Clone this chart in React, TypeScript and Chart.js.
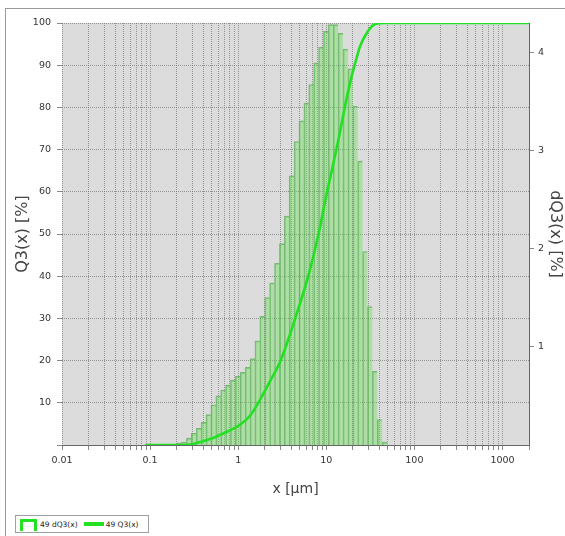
import React, { useEffect, useRef } from 'react';
import { Chart, registerables } from 'chart.js';

Chart.register(...registerables);

// ---- data ----
// histogram bins (class centres, µm) and dQ3 values (% , right axis)
const binCentersUm = [
  0.2132, 0.2423, 0.2754, 0.3129, 0.3557, 0.4042, 0.4593, 0.522, 0.5933,
  0.6742, 0.7662, 0.8708, 0.9896, 1.1247, 1.2782, 1.4526, 1.6508, 1.8761,
  2.1321, 2.4231, 2.7537, 3.1295, 3.5566, 4.0419, 4.5935, 5.2203, 5.9327,
  6.7423, 7.6624, 8.708, 9.8963, 11.247, 12.782, 14.526, 16.508, 18.761,
  21.321, 24.231, 27.537, 31.295, 35.566, 40.419, 45.935,
];
const dQ3Values = [
  0.02, 0.03, 0.07, 0.12, 0.17, 0.23, 0.31, 0.41, 0.5,
  0.56, 0.61, 0.66, 0.7, 0.74, 0.79, 0.88, 1.06, 1.31,
  1.5, 1.65, 1.85, 2.05, 2.33, 2.74, 3.09, 3.3, 3.48,
  3.67, 3.89, 4.05, 4.21, 4.28, 4.28, 4.19, 4.03, 3.83,
  3.45, 2.89, 1.97, 1.41, 0.75, 0.26, 0.03,
];
// cumulative curve Q3 (% , left axis)
const q3SizesUm = [
  0.088, 0.2, 0.285, 0.37, 0.48, 0.58, 0.81, 1.05, 1.37, 1.78, 2.31, 3.0,
  4.45, 6.24, 8.11, 9.75, 13.7, 16.4, 18.7, 22.5, 24.3, 29.2, 34.2, 44.4, 2000,
];
const q3Values = [
  0, 0, 0.12, 0.7, 1.4, 2.1, 3.5, 4.8, 7.0, 10.8, 15.2, 19.8,
  30.1, 40.0, 49.7, 58.0, 72.2, 80.5, 86.0, 92.3, 94.6, 97.8, 99.5, 100, 100,
];

// ---- axes ----
const xMin = 0.01;
const xMax = 2000;
const xDecades = [0.01, 0.1, 1, 10, 100, 1000];
const xTickLabels = ['0.01', '0.1', '1', '10', '100', '1000'];
const xMinorFactors = [1, 2, 3, 4, 5, 6, 7, 8, 9];
const leftTicks = [0, 10, 20, 30, 40, 50, 60, 70, 80, 90, 100];
const leftMax = 100;
const rightTicks = [1, 2, 3, 4];
const rightMax = 4.296;

const seriesNames = ['49 dQ3(x)', '49 Q3(x)'];

const TICK_FONT = { family: 'DejaVu Sans', size: 9.5 };
const TITLE_FONT = { family: 'DejaVu Sans', size: 14 };
const AXIS_TITLE_FONT = { family: 'DejaVu Sans', size: 16 };
const GRID_COLOR = 'rgba(115,115,115,0.7)';
const LINE_GREEN = '#22e122';

const xTickValues: number[] = [];
xDecades.forEach((d) => {
  xMinorFactors.forEach((f) => {
    const v = +(d * f).toPrecision(6);
    if (v <= xMax) xTickValues.push(v);
  });
});

const bgPlugin = {
  id: 'plotBg',
  beforeDraw(chart: any) {
    const { ctx, chartArea } = chart;
    ctx.save();
    ctx.fillStyle = '#dcdcdc';
    ctx.fillRect(chartArea.left, chartArea.top, chartArea.right - chartArea.left, chartArea.bottom - chartArea.top);
    ctx.restore();
  },
};

export default function App() {
  const canvasRef = useRef<HTMLCanvasElement | null>(null);

  useEffect(() => {
    document.body.style.margin = '0';
    const canvas = canvasRef.current;
    if (!canvas) return;
    const chart = new Chart(canvas, {
      type: 'bar',
      data: {
        datasets: [
          {
            type: 'line',
            label: seriesNames[1],
            data: q3SizesUm.map((x, i) => ({ x, y: q3Values[i] })),
            xAxisID: 'x',
            yAxisID: 'yL',
            borderColor: LINE_GREEN,
            borderWidth: 2.6,
            pointRadius: 0,
            cubicInterpolationMode: 'monotone',
            fill: false,
            order: 0,
          } as any,
          {
            type: 'bar',
            label: seriesNames[0],
            data: binCentersUm.map((x, i) => ({ x, y: dQ3Values[i] })),
            xAxisID: 'xb',
            yAxisID: 'yR',
            backgroundColor: 'rgba(110,222,90,0.42)',
            borderColor: 'rgba(60,160,60,0.6)',
            borderWidth: { left: 1, right: 0, top: 1, bottom: 0 },
            borderSkipped: false,
            grouped: false,
            categoryPercentage: 1,
            barPercentage: 1,
            order: 1,
          } as any,
        ],
      },
      options: {
        animation: false,
        responsive: false,
        maintainAspectRatio: false,
        devicePixelRatio: 1,
        layout: { padding: { top: 23, left: 0, right: 0, bottom: 0 } },
        plugins: {
          legend: { display: false },
          tooltip: { enabled: false },
        },
        scales: {
          x: {
            type: 'logarithmic',
            position: 'bottom',
            min: xMin,
            max: xMax,
            offset: false,
            afterFit: (s: any) => { s.height = 91; },
            afterBuildTicks: (s: any) => { s.ticks = xTickValues.map((v) => ({ value: v })); },
            ticks: {
              autoSkip: false,
              maxRotation: 0,
              minRotation: 0,
              padding: 5,
              font: TICK_FONT,
              color: '#333',
              callback: (value: any) => {
                const i = xDecades.findIndex((d) => Math.abs(d - value) / d < 1e-6);
                return i >= 0 ? xTickLabels[i] : '';
              },
            },
            grid: {
              offset: false,
              color: GRID_COLOR,
              lineWidth: 1,
              tickLength: 5,
              tickColor: '#888',
              tickBorderDash: [],
            },
            border: { display: true, color: '#666', width: 1, dash: [1, 1] },
            title: {
              display: true,
              text: 'x [µm]',
              font: TITLE_FONT,
              color: '#444',
              padding: { top: 0, bottom: 38 },
            },
          },
          xb: {
            type: 'logarithmic',
            position: 'bottom',
            display: false,
            min: xMin,
            max: xMax,
            offset: false,
            grid: { offset: false },
            afterBuildTicks: (s: any) => { s.ticks = [{ value: xMin }, { value: xMax }]; },
          },
          yL: {
            type: 'linear',
            position: 'left',
            min: 0,
            max: leftMax,
            afterFit: (s: any) => { s.width = 62; },
            afterBuildTicks: (s: any) => { s.ticks = leftTicks.map((v) => ({ value: v })); },
            ticks: {
              padding: 6,
              font: TICK_FONT,
              color: '#333',
              callback: (value: any) => (value === 0 ? '' : String(value)),
            },
            grid: {
              color: GRID_COLOR,
              lineWidth: 1,
              tickLength: 5,
              tickColor: '#888',
              tickBorderDash: [],
            },
            border: { display: false, dash: [1, 1] },
            title: {
              display: true,
              text: 'Q3(x) [%]',
              font: AXIS_TITLE_FONT,
              color: '#444',
              padding: { top: 13, bottom: 0 },
            },
          },
          yR: {
            type: 'linear',
            position: 'right',
            min: 0,
            max: rightMax,
            afterFit: (s: any) => { s.width = 36; },
            afterBuildTicks: (s: any) => { s.ticks = rightTicks.map((v) => ({ value: v })); },
            ticks: {
              padding: 4,
              font: TICK_FONT,
              color: '#333',
            },
            grid: {
              drawOnChartArea: false,
              tickLength: 5,
              tickColor: '#888',
              tickBorderDash: [],
            },
            border: { display: true, color: '#666', width: 1 },
            title: {
              display: true,
              text: 'dQ3(x) [%]',
              font: AXIS_TITLE_FONT,
              color: '#444',
              padding: { top: 0, bottom: 0 },
            },
          },
        },
      } as any,
      plugins: [bgPlugin],
    });
    return () => chart.destroy();
  }, []);

  return (
    <div style={{ position: 'relative', width: 565, height: 536, background: '#fff', overflow: 'hidden' }}>
      <div
        style={{
          position: 'absolute', left: 5, top: 8, width: 570, height: 540,
          borderTop: '1px solid #9a9a9a', borderLeft: '1px solid #9a9a9a',
        }}
      />
      <canvas
        ref={canvasRef}
        width={565}
        height={536}
        style={{ position: 'absolute', left: 0, top: 0, width: 565, height: 536 }}
      />
      <div
        style={{
          position: 'absolute', left: 15, top: 515, width: 132, height: 16,
          border: '1px solid #a0a0a0', background: '#fff',
          display: 'flex', alignItems: 'center',
          fontFamily: 'DejaVu Sans', fontSize: 7.5, color: '#222', whiteSpace: 'nowrap',
        }}
      >
        <div style={{ marginLeft: 4, width: 11, height: 9, border: `3px solid ${LINE_GREEN}`, borderBottom: 'none', marginTop: 2 }} />
        <span style={{ marginLeft: 3 }}>{seriesNames[0]}</span>
        <div style={{ marginLeft: 6, width: 20, height: 4, background: LINE_GREEN }} />
        <span style={{ marginLeft: 2 }}>{seriesNames[1]}</span>
      </div>
    </div>
  );
}
